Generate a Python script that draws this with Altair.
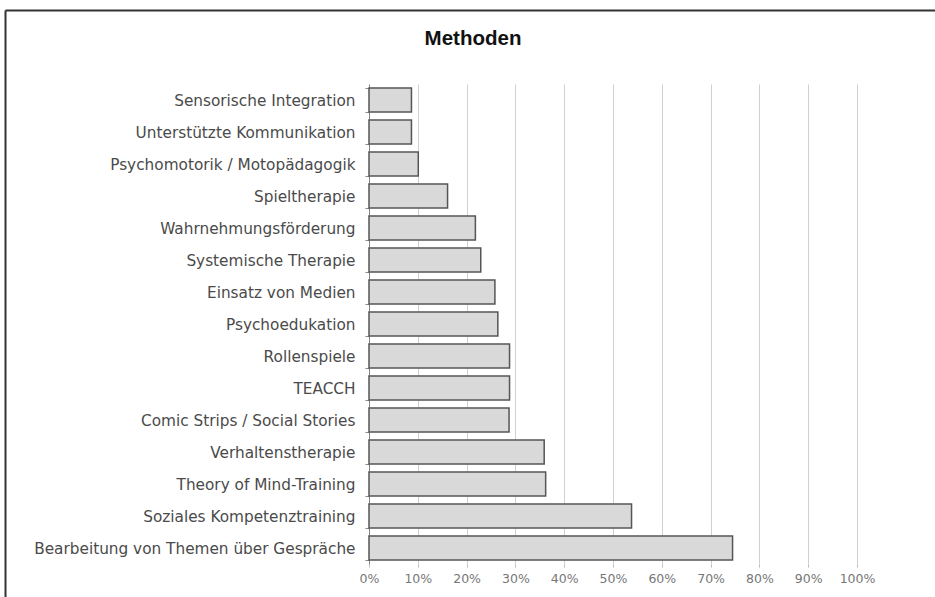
import altair as alt
import pandas as pd

methods = [
    "Sensorische Integration",
    "Unterstützte Kommunikation",
    "Psychomotorik / Motopädagogik",
    "Spieltherapie",
    "Wahrnehmungsförderung",
    "Systemische Therapie",
    "Einsatz von Medien",
    "Psychoedukation",
    "Rollenspiele",
    "TEACCH",
    "Comic Strips / Social Stories",
    "Verhaltenstherapie",
    "Theory of Mind-Training",
    "Soziales Kompetenztraining",
    "Bearbeitung von Themen über Gespräche",
]
shares = [0.087, 0.087, 0.101, 0.161, 0.218, 0.229, 0.258, 0.264,
          0.288, 0.288, 0.287, 0.359, 0.362, 0.538, 0.745]
x_ticks = [0, 0.1, 0.2, 0.3, 0.4, 0.5, 0.6, 0.7, 0.8, 0.9, 1.0]
title_text = "Methoden"

df = pd.DataFrame({"Methode": methods, "Anteil": shares})

bars = alt.Chart(df).mark_bar(
    fill="#d9d9d9", stroke="#555555", strokeWidth=1.5
).encode(
    y=alt.Y("Methode:N", sort=methods, title=None,
            scale=alt.Scale(paddingInner=0.25, paddingOuter=0.125),
            axis=alt.Axis(labelFont="DejaVu Sans", labelFontSize=15.3,
                          labelColor="#4a4a4a", labelLimit=400,
                          domain=True, domainColor="#888888",
                          ticks=True, tickBand="extent", tickSize=4, tickColor="#888888",
                          labelPadding=10, grid=False)),
    x=alt.X("Anteil:Q", title=None,
            scale=alt.Scale(domain=[0, 1], nice=False),
            axis=alt.Axis(values=x_ticks, format=".0%", labelFont="DejaVu Sans",
                          labelFontSize=12.5, labelColor="#777777", labelOverlap=False,
                          labelFlush=False,
                          domain=False, ticks=True, tickSize=3, tickColor="#bbbbbb",
                          grid=True, gridColor="#d0d0d0", gridWidth=1,
                          labelPadding=5)),
)

one = pd.DataFrame({"t": [title_text]})
title = alt.Chart(one).mark_text(
    font="Liberation Sans", fontSize=20.5, fontWeight="bold", color="#111111",
    align="center", baseline="alphabetic"
).encode(text="t:N", x=alt.value(104), y=alt.value(-39))

frame_top = alt.Chart(one).mark_rule(color="#333333", strokeWidth=2).encode(
    x=alt.value(-363.5), x2=alt.value(600), y=alt.value(-73.5)
)
frame_left = alt.Chart(one).mark_rule(color="#333333", strokeWidth=2).encode(
    x=alt.value(-363.5), y=alt.value(-73.5), y2=alt.value(540)
)

chart = alt.layer(bars, title, frame_top, frame_left).properties(
    width=488, height=480,
    autosize=alt.AutoSizeParams(type="none"),
    padding={"left": 369, "top": 84, "right": 78, "bottom": 33},
    background="white",
).configure_view(stroke=None)

chart.save("out.html", embed_options={"renderer": "svg", "actions": False})
